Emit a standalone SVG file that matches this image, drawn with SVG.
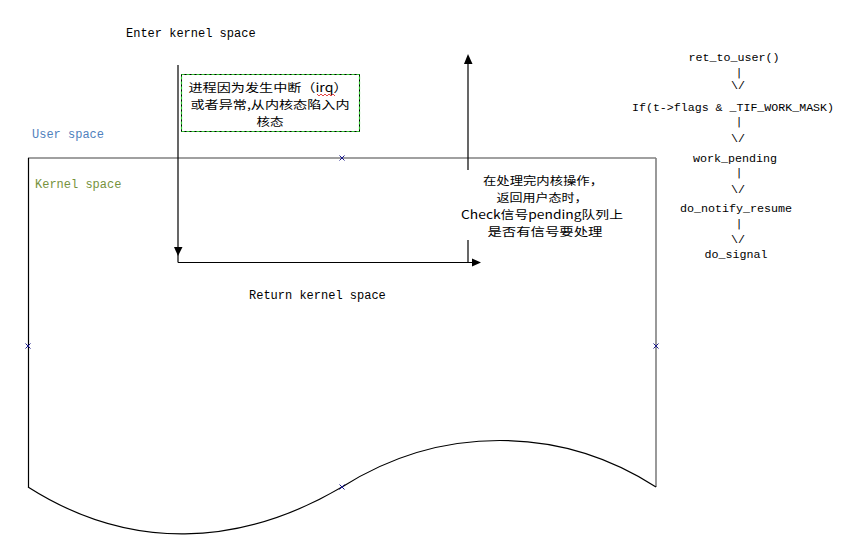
<svg xmlns="http://www.w3.org/2000/svg" width="857" height="545" viewBox="0 0 857 545">
<style>
.mono{font-family:"Liberation Mono","DejaVu Sans Mono",monospace;font-size:12px;fill:#000}
.code{font-family:"Liberation Mono","DejaVu Sans Mono",monospace;font-size:11.7px;fill:#000;text-anchor:middle}
.bar{font-family:"DejaVu Sans Mono",monospace;font-size:11px;fill:#000;text-anchor:middle}
.cjk{font-family:"Noto Sans CJK SC","Liberation Sans",sans-serif;font-size:11.6px;fill:#000;text-anchor:middle}
.ln{stroke:#000;stroke-width:1.2;fill:none}
.gray{stroke:#808080;stroke-width:1.6;fill:none}
.mk{stroke:#1a1a8c;stroke-width:1;fill:none}
</style>
<rect width="857" height="545" fill="#fff"/>
<g id="kernel-region">
<line class="gray" x1="28" y1="158" x2="656" y2="158"/>
<line class="ln" x1="28.5" y1="158" x2="28.5" y2="487"/>
<line class="gray" x1="656" y1="158" x2="656" y2="487"/>
<path class="ln" d="M28,487 C130,552 240,547 342,487 C440,425 560,425 656,487" stroke="#333"/>
<g id="markers">
<path class="mk" d="M339.5,155.5l5,5M344.5,155.5l-5,5"/>
<path class="mk" d="M25.5,343.5l5,5M30.5,343.5l-5,5"/>
<path class="mk" d="M653.5,343.5l5,5M658.5,343.5l-5,5"/>
<path class="mk" d="M339.5,484.5l5,5M344.5,484.5l-5,5"/>
</g>
</g>
<g id="labels">
<text class="mono" x="126" y="37">Enter kernel space</text>
<text class="mono" x="32" y="138" style="fill:#4f81bd">User space</text>
<text class="mono" x="35" y="188" style="fill:#76923c">Kernel space</text>
<text class="mono" x="249" y="299">Return kernel space</text>
</g>
<g id="connectors">
<line class="ln" x1="178" y1="65" x2="178" y2="262.5"/>
<polygon points="174,247 182.5,247 178,256" fill="#000"/>
<line class="ln" x1="178" y1="262.5" x2="474" y2="262.5"/>
<polygon points="472,258.5 472,266.5 481,262.5" fill="#000"/>
<line class="ln" x1="468" y1="262.5" x2="468" y2="62"/>
<polygon points="464,64 472.5,64 468,54" fill="#000"/>
</g>
<g id="note-irq">
<rect x="181.5" y="74.5" width="178" height="57" fill="#fff" stroke="#000" stroke-width="1"/>
<rect x="181.5" y="74.5" width="178" height="57" fill="none" stroke="#33cc33" stroke-width="1.2" stroke-dasharray="3,2"/>
<text class="cjk" x="268" y="91.5" textLength="159" lengthAdjust="spacingAndGlyphs">进程因为发生中断（irq）</text>
<path d="M317,94 l2,2 l2,-2 l2,2 l2,-2 l2,2 l2,-2 l2,2 l2,-2 l2,2" stroke="#e03030" stroke-width="0.9" fill="none"/>
<text class="cjk" x="270" y="108.5" textLength="159" lengthAdjust="spacingAndGlyphs">或者异常,从内核态陷入内</text>
<text class="cjk" x="270" y="125.5" textLength="27" lengthAdjust="spacingAndGlyphs">核态</text>
</g>
<g id="note-return">
<rect x="460" y="170" width="170" height="70" fill="#fff"/>
<text class="cjk" x="543" y="184.5" textLength="120" lengthAdjust="spacingAndGlyphs">在处理完内核操作，</text>
<text class="cjk" x="542" y="201.5" textLength="91" lengthAdjust="spacingAndGlyphs">返回用户态时，</text>
<text class="cjk" x="542" y="218.5" textLength="162" lengthAdjust="spacingAndGlyphs">Check信号pending队列上</text>
<text class="cjk" x="545" y="235.5" textLength="115" lengthAdjust="spacingAndGlyphs">是否有信号要处理</text>
</g>
<g id="call-chain">
<text class="code" x="734" y="61">ret_to_user()</text>
<text class="bar" x="739" y="76">|</text>
<text class="code" x="738" y="89">\/</text>
<text class="code" x="733" y="111" textLength="202" lengthAdjust="spacingAndGlyphs">If(t-&gt;flags &amp; _TIF_WORK_MASK)</text>
<text class="bar" x="739" y="125">|</text>
<text class="code" x="738" y="142">\/</text>
<text class="code" x="735" y="162">work_pending</text>
<text class="bar" x="739" y="176">|</text>
<text class="code" x="738" y="193">\/</text>
<text class="code" x="736" y="212">do_notify_resume</text>
<text class="bar" x="739" y="227">|</text>
<text class="code" x="738" y="243">\/</text>
<text class="code" x="736" y="258">do_signal</text>
</g>
</svg>
